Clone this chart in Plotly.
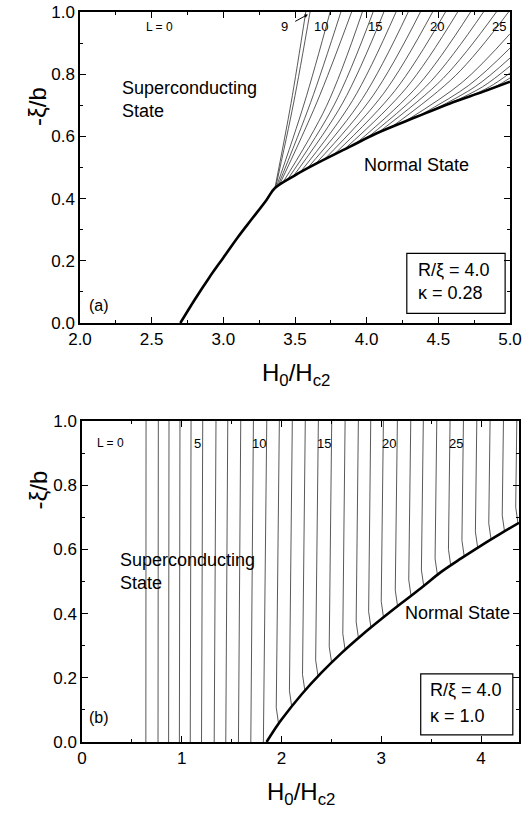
import plotly.graph_objects as go

FONT = "Liberation Sans, Arial, sans-serif"

# ---------------- panel (a): R/xi = 4.0, kappa = 0.28 ----------------
# nucleation boundary (thick curve)
a_bound_x = [2.70, 2.80, 2.90, 3.00, 3.10, 3.20, 3.30, 3.36, 3.50, 3.651, 3.884,
             4.07, 4.349, 4.581, 4.814, 5.00]
a_bound_y = [0.000, 0.075, 0.145, 0.210, 0.275, 0.335, 0.395, 0.434, 0.475, 0.513,
             0.567, 0.610, 0.663, 0.706, 0.744, 0.776]

# L -> L+1 transition lines: start on the boundary, bend through a middle point,
# end at the top or right frame
a_fan_x0 = [3.36, 3.365, 3.37, 3.38, 3.39, 3.41, 3.44, 3.48, 3.53, 3.58, 3.64, 3.70,
            3.77, 3.84, 3.92, 4.00, 4.08, 4.17, 4.26, 4.36, 4.46, 4.57, 4.68, 4.80]
a_fan_y0 = [0.434, 0.436, 0.437, 0.440, 0.443, 0.448, 0.456, 0.467, 0.481, 0.494,
            0.510, 0.524, 0.541, 0.557, 0.575, 0.594, 0.612, 0.629, 0.646, 0.665,
            0.684, 0.704, 0.722, 0.742]
a_fan_xm = [3.472, 3.490, 3.565, 3.609, 3.653, 3.718, 3.773, 3.832, 3.901, 3.971,
            4.044, 4.118, 4.199, 4.277, 4.363, 4.448, 4.534, 4.621, 4.667, 4.712,
            4.757, 4.807, 4.856, 4.910]
a_fan_ym = [0.706, 0.707, 0.707, 0.709, 0.710, 0.696, 0.701, 0.707, 0.715, 0.722,
            0.731, 0.738, 0.748, 0.756, 0.766, 0.777, 0.787, 0.796, 0.774, 0.764,
            0.760, 0.759, 0.759, 0.763]
a_fan_x1 = [3.575, 3.605, 3.745, 3.820, 3.895, 3.970, 4.045, 4.120, 4.205, 4.290,
            4.375, 4.460, 4.550, 4.635, 4.725, 4.815, 4.905, 4.990, 5.0, 5.0, 5.0,
            5.0, 5.0, 5.0]
a_fan_y1 = [1.0] * 18 + [0.930, 0.884, 0.852, 0.826, 0.804, 0.788]

# vorticity labels
a_L_text = ["L = 0", "10", "15", "20", "25"]
a_L_x = [2.558, 3.68, 4.06, 4.49, 4.92]

# ---------------- panel (b): R/xi = 4.0, kappa = 1.0 ----------------
b_bound_x = [1.85, 1.95, 2.00, 2.20, 2.40, 2.60, 2.80, 3.00, 3.20, 3.40, 3.60, 3.80,
             4.00, 4.20, 4.38]
b_bound_y = [0.000, 0.048, 0.070, 0.148, 0.216, 0.277, 0.332, 0.383, 0.432, 0.480,
             0.530, 0.572, 0.612, 0.650, 0.683]

# transitions L = 0..10 crossing the whole panel
b_full_top = [0.642, 0.765, 0.872, 0.982, 1.093, 1.210, 1.343, 1.461, 1.591, 1.718, 1.852]
b_full_bot = [0.640, 0.762, 0.868, 0.976, 1.085, 1.198, 1.325, 1.441, 1.568, 1.692, 1.818]

# transitions L = 11..29 ending on the boundary
b_stub_top = [1.978, 2.108, 2.238, 2.369, 2.503, 2.637, 2.770, 2.894, 3.021, 3.161,
              3.295, 3.421, 3.556, 3.689, 3.823, 3.957, 4.090, 4.224, 4.358]
b_stub_kx = [1.947, 2.079, 2.210, 2.342, 2.478, 2.614, 2.748, 2.873, 2.999, 3.140,
             3.275, 3.402, 3.539, 3.673, 3.808, 3.943, 4.077, 4.212, 4.347]
b_stub_ky = [0.107, 0.160, 0.210, 0.255, 0.297, 0.337, 0.374, 0.406, 0.438, 0.473,
             0.505, 0.536, 0.571, 0.600, 0.628, 0.655, 0.681, 0.706, 0.731]
b_stub_fx = [1.970, 2.102, 2.234, 2.366, 2.502, 2.637, 2.771, 2.896, 3.022, 3.163,
             3.298, 3.425, 3.562, 3.696, 3.831, 3.966, 4.100, 4.235, 4.370]
b_stub_fy = [0.057, 0.110, 0.160, 0.204, 0.247, 0.287, 0.324, 0.357, 0.388, 0.423,
             0.455, 0.486, 0.521, 0.550, 0.578, 0.605, 0.631, 0.656, 0.681]

b_L_text = ["L = 0", "5", "10", "15", "20", "25"]
b_L_x = [0.281, 1.16, 1.77, 2.43, 3.08, 3.75]

THIN = dict(color="#222222", width=0.75)
THICK = dict(color="black", width=2.6)

fig = go.Figure()

# panel (a) traces
for i in range(len(a_fan_x0)):
    fig.add_trace(go.Scatter(
        x=[a_fan_x0[i], a_fan_xm[i], a_fan_x1[i]],
        y=[a_fan_y0[i], a_fan_ym[i], a_fan_y1[i]],
        mode="lines", line=dict(**THIN, shape="spline"),
        xaxis="x", yaxis="y", hoverinfo="skip"))
fig.add_trace(go.Scatter(x=a_bound_x, y=a_bound_y, mode="lines",
                         line=dict(**THICK, shape="spline"), xaxis="x", yaxis="y"))

# panel (b) traces
for i in range(len(b_full_top)):
    fig.add_trace(go.Scatter(x=[b_full_top[i], b_full_bot[i]], y=[1.0, 0.0],
                             mode="lines", line=THIN, xaxis="x2", yaxis="y2",
                             hoverinfo="skip"))
for i in range(len(b_stub_top)):
    fig.add_trace(go.Scatter(
        x=[b_stub_top[i], b_stub_kx[i], b_stub_fx[i]],
        y=[1.0, b_stub_ky[i], b_stub_fy[i]],
        mode="lines", line=THIN, xaxis="x2", yaxis="y2", hoverinfo="skip"))
fig.add_trace(go.Scatter(x=b_bound_x, y=b_bound_y, mode="lines",
                         line=dict(**THICK, shape="spline"), xaxis="x2", yaxis="y2"))


def axis_style(minor_dtick, **kw):
    d = dict(showline=True, linecolor="black", linewidth=1.5, mirror="allticks",
             ticks="inside", ticklen=6, tickwidth=1.3, tickcolor="black",
             showgrid=False, zeroline=False, automargin=False,
             tickfont=dict(family=FONT, size=17, color="black"),
             minor=dict(ticks="inside", ticklen=3.5, tickwidth=1, tickcolor="black",
                        dtick=minor_dtick, showgrid=False))
    d.update(kw)
    return d


W, H = 522, 819
ann = []


def txt(text, x, y, ref, size, **kw):
    a = dict(text=text, x=x, y=y, xref="x" + ref, yref="y" + ref, showarrow=False,
             font=dict(family=FONT, size=size, color="black"))
    a.update(kw)
    ann.append(a)


# panel (a) text
for t, x in zip(a_L_text, a_L_x):
    txt(t, x, 0.952, "", 12 if t.startswith("L") else 13)
ann.append(dict(text="9", x=3.59, y=0.992, xref="x", yref="y", axref="x", ayref="y",
                ax=3.43, ay=0.952, showarrow=True, arrowhead=2, arrowsize=0.7,
                arrowwidth=1, arrowcolor="black", standoff=0, startstandoff=6,
                font=dict(family=FONT, size=13, color="black")))
txt("Superconducting", 2.279, 0.756, "", 18, xanchor="left")
txt("State", 2.279, 0.682, "", 18, xanchor="left")
txt("Normal State", 3.966, 0.508, "", 18, xanchor="left")
txt("R/ξ = 4.0", 4.343, 0.170, "", 18, xanchor="left")
txt("κ = 0.28", 4.343, 0.095, "", 18, xanchor="left")
txt("(a)", 2.133, 0.055, "", 16)

# panel (b) text
for t, x in zip(b_L_text, b_L_x):
    txt(t, x, 0.931, "2", 12 if t.startswith("L") else 13)
txt("Superconducting", 0.361, 0.567, "2", 18, xanchor="left")
txt("State", 0.361, 0.495, "2", 18, xanchor="left")
txt("Normal State", 3.218, 0.402, "2", 18, xanchor="left")
txt("R/ξ = 4.0", 3.472, 0.162, "2", 18, xanchor="left")
txt("κ = 1.0", 3.472, 0.081, "2", 18, xanchor="left")
txt("(b)", 0.17, 0.075, "2", 16)

# axis titles
for yc in (85, 490):
    ann.append(dict(text="-ξ/b", x=22 / W, y=1 - yc / H, xref="paper", yref="paper",
                    showarrow=False, textangle=-90,
                    font=dict(family=FONT, size=24, color="black")))
for xc, ytop in ((296, 357), (301, 776)):
    ann.append(dict(text="H<sub>0</sub>/H<sub>c2</sub>", x=xc / W, y=1 - ytop / H,
                    xref="paper", yref="paper", yanchor="top", showarrow=False,
                    font=dict(family=FONT, size=24, color="black")))

shapes = [
    dict(type="rect", xref="x", yref="y", x0=4.28, x1=4.966, y0=0.031, y1=0.224,
         line=dict(color="black", width=1.2)),
    dict(type="rect", xref="x2", yref="y2", x0=3.395, x1=4.318, y0=0.022, y1=0.212,
         line=dict(color="black", width=1.2)),
]

fig.update_layout(
    width=W, height=H, margin=dict(l=0, r=0, t=0, b=0),
    paper_bgcolor="white", plot_bgcolor="white", showlegend=False,
    font=dict(family=FONT, color="black"),
    xaxis=axis_style(0.25, domain=[80 / W, 510 / W], range=[2, 5], tick0=2, dtick=0.5,
                     tickformat=".1f", anchor="y"),
    yaxis=axis_style(0.1, domain=[1 - 323 / H, 1 - 12 / H], range=[0, 1], dtick=0.2,
                     tickformat=".1f", anchor="x"),
    xaxis2=axis_style(0.5, domain=[82 / W, 519 / W], range=[0, 4.38], tick0=0, dtick=1,
                      anchor="y2"),
    yaxis2=axis_style(0.1, domain=[1 - 742 / H, 1 - 421 / H], range=[0, 1], dtick=0.2,
                      tickformat=".1f", anchor="x2"),
    annotations=ann, shapes=shapes,
)

fig.write_html("out.html")
